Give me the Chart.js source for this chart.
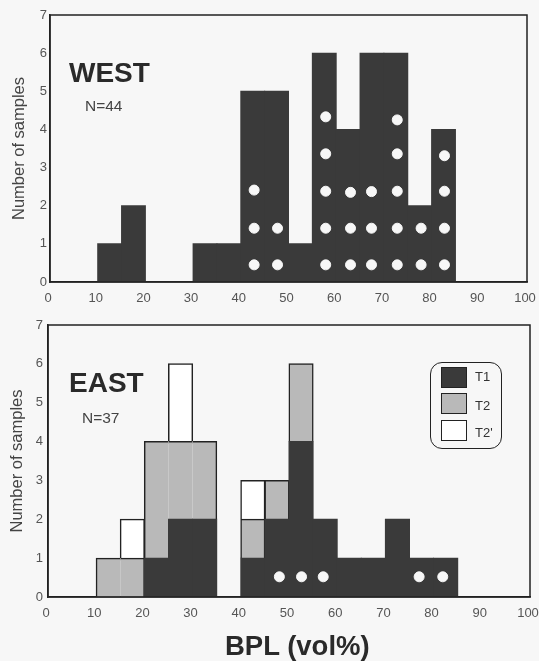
<!DOCTYPE html>
<html><head><meta charset="utf-8">
<script src="https://cdn.jsdelivr.net/npm/chart.js@4"></script>
<style>
html,body{margin:0;padding:0;background:#f7f7f7;}
body{width:539px;height:661px;position:relative;overflow:hidden;font-family:"Liberation Sans",Arial,sans-serif;color:#333;}
canvas{position:absolute;left:0;}
.t{position:absolute;white-space:nowrap;line-height:1;}
.h{font-size:28px;font-weight:bold;color:#2a2a2a;}
.n{font-size:15.5px;color:#444;}
#leg{position:absolute;left:430px;top:362px;width:72px;height:87px;border:1.5px solid #222;border-radius:12px;box-sizing:border-box;}
#leg i{position:absolute;left:10px;width:26px;height:21px;box-sizing:border-box;border:1px solid #222;}
#leg span{position:absolute;left:44px;font-size:13px;line-height:1;color:#333;}
</style></head><body>
<canvas id="west" width="539" height="310" style="top:0;width:539px;height:310px"></canvas>
<canvas id="east" width="539" height="351" style="top:310px;width:539px;height:351px"></canvas>
<div class="t h" style="left:69px;top:59px">WEST</div>
<div class="t n" style="left:85px;top:98px">N=44</div>
<div class="t h" style="left:69px;top:369px">EAST</div>
<div class="t n" style="left:82px;top:410px">N=37</div>
<div id="leg">
<i style="top:4px;background:#3a3a3a"></i><span style="top:7px">T1</span>
<i style="top:30px;background:#b9b9b9"></i><span style="top:36px">T2</span>
<i style="top:57px;background:#fff"></i><span style="top:63px">T2'</span>
</div>
<div class="t" style="left:225px;top:632px;font-size:27.5px;font-weight:bold;color:#2a2a2a">BPL (vol%)</div>
<script>
const binCenters=[12.5,17.5,22.5,27.5,32.5,37.5,42.5,47.5,52.5,57.5,62.5,67.5,72.5,77.5,82.5];
const westT1=[1,2,0,0,1,1,5,5,1,6,4,6,6,2,4];
const westDotX=[42.8,42.8,42.8,47.7,47.7,57.8,57.8,57.8,57.8,57.8,63,63,63,67.4,67.4,67.4,72.8,72.8,72.8,72.8,72.8,77.8,77.8,82.7,82.7,82.7,82.7];
const westDotY=[.45,1.41,2.41,.45,1.41,.45,1.41,2.38,3.36,4.33,.45,1.41,2.35,.45,1.41,2.37,.45,1.41,2.38,3.36,4.25,.45,1.41,.45,1.41,2.38,3.31];
const eastT1=[0,0,1,2,2,0,1,2,4,2,1,1,2,1,1];
const eastT2=[1,1,3,2,2,0,1,1,2,0,0,0,0,0,0];
const eastT2p=[0,1,0,2,0,0,1,0,0,0,0,0,0,0,0];
const eastDotX=[48,52.6,57.1,77,81.9];
const eastDotY=[.52,.52,.52,.52,.52];
const xTicks=[0,10,20,30,40,50,60,70,80,90,100];
const yTicks=[0,1,2,3,4,5,6,7];
const dark='#3a3a3a',mid='#b9b9b9',edge='#222';

function bars(label,vals,color,width){
  return {type:'bar',label,data:binCenters.map((x,i)=>({x,y:vals[i]})),backgroundColor:color,
    borderColor:edge,borderWidth:width,inflateAmount:0.5,barPercentage:1,categoryPercentage:1,stack:'s',order:2};
}
const t2Top=i=>eastT1[i]+eastT2[i];
function t2Border(ctx){
  const i=ctx.dataIndex;
  return {top:1.5,bottom:0,
    left:(t2Top(i-1)||0)!==t2Top(i)?1.5:0,
    right:(t2Top(i+1)||0)!==t2Top(i)?1.5:0};
}
function dots(xs,ys){
  return {type:'scatter',label:'dots',data:xs.map((x,i)=>({x,y:ys[i]})),backgroundColor:'#f7f7f7',
    borderColor:'#f7f7f7',pointRadius:5,pointHoverRadius:5,order:1};
}
function make(id,datasets,pad,yPad){
  return new Chart(document.getElementById(id),{
    type:'bar',
    data:{datasets},
    options:{responsive:false,animation:false,
      layout:{padding:pad},
      plugins:{legend:{display:false},tooltip:{enabled:false}},
      scales:{
        x:{type:'linear',min:0,max:100,stacked:true,offset:false,
          afterFit(s){s.height=pad.xh;s.paddingLeft=0;s.paddingRight=0;},
          afterBuildTicks(s){s.ticks=xTicks.map(v=>({value:v}));},
          grid:{display:false,drawTicks:false},
          border:{color:'#222',width:1.5},
          ticks:{maxRotation:0,padding:9,labelOffset:-2,color:'#555',font:{family:'Liberation Sans',size:13}}},
        y:{min:0,max:7,stacked:true,
          afterFit(s){s.width=pad.plotLeft-pad.left;},
          afterBuildTicks(s){s.ticks=yTicks.map(v=>({value:v}));},
          grid:{display:false,drawTicks:false},
          border:{color:'#222',width:1.5},
          title:{display:true,text:'Number of samples',color:'#444',padding:{top:0,bottom:0},font:{family:'Liberation Sans',size:16.5}},
          ticks:{padding:yPad,color:'#555',font:{family:'Liberation Sans',size:13}}}
      }
    },
    plugins:[{id:'frame',afterDraw(c){const a=c.chartArea,g=c.ctx;g.save();g.strokeStyle='#222';g.lineWidth=1.5;g.strokeRect(a.left,a.top,a.right-a.left,a.bottom-a.top);g.restore();}}]
  });
}
make('west',[bars('T1',westT1,dark,0),dots(westDotX,westDotY)],{left:10,right:12,top:15,bottom:0,xh:28,plotLeft:50},3);
make('east',[bars('T1',eastT1,dark,0),bars('T2',eastT2,mid,t2Border),bars("T2'",eastT2p,'#fff',1.5),dots(eastDotX,eastDotY)],{left:8,right:9,top:15,bottom:0,xh:64,plotLeft:48},5);
</script>
</body></html>
